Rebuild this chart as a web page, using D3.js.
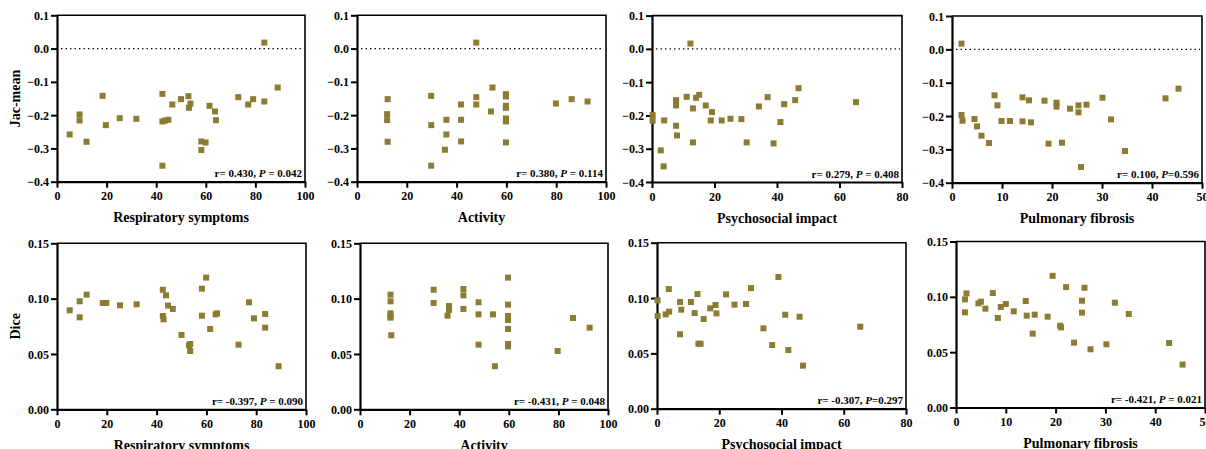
<!DOCTYPE html>
<html><head><meta charset="utf-8">
<script src="https://cdn.jsdelivr.net/npm/d3@7"></script>
<style>
body{margin:0;background:#fff;}
svg{display:block;}
text{font-family:"Liberation Serif","Times New Roman",serif;font-weight:bold;fill:#000;}
</style></head><body>
<svg id="chart" width="1206" height="449"></svg>
<script>
// ---------- data ----------
const xTitles = ["Respiratory symptoms", "Activity", "Psychosocial impact", "Pulmonary fibrosis"];
const yTitles = ["Jac-mean", "Dice"];
const jacTicks = [0.1, 0.0, -0.1, -0.2, -0.3, -0.4];
const diceTicks = [0.15, 0.10, 0.05, 0.00];
const xTicks100 = [0, 20, 40, 60, 80, 100];
const xTicks80 = [0, 20, 40, 60, 80];
const xTicks50 = [0, 10, 20, 30, 40, 50];

// Jac-mean row
const respJacX = [5.1, 9.1, 9.1, 11.9, 18.4, 19.7, 25.3, 32.0, 42.5, 42.5, 42.5, 43.6, 44.9, 46.5, 50.0, 53.0, 53.8, 53.2, 58.2, 58.2, 59.9, 61.5, 63.7, 64.1, 73.1, 77.1, 79.1, 83.6, 83.6, 89.0];
const respJacY = [-0.258, -0.198, -0.216, -0.280, -0.142, -0.230, -0.209, -0.211, -0.136, -0.352, -0.219, -0.216, -0.214, -0.168, -0.152, -0.143, -0.165, -0.178, -0.279, -0.305, -0.282, -0.172, -0.189, -0.215, -0.146, -0.168, -0.152, -0.159, 0.018, -0.117];

const actJacX = [12.3, 12.1, 12.1, 12.3, 29.8, 29.8, 29.8, 35.9, 35.9, 35.3, 41.8, 41.8, 41.8, 47.9, 47.9, 47.9, 53.8, 54.4, 59.8, 59.8, 59.8, 59.8, 59.8, 59.8, 59.8, 79.9, 86.2, 92.6];
const actJacY = [-0.152, -0.197, -0.215, -0.280, -0.142, -0.230, -0.352, -0.214, -0.258, -0.304, -0.168, -0.214, -0.279, 0.018, -0.146, -0.168, -0.189, -0.117, -0.137, -0.144, -0.172, -0.178, -0.210, -0.219, -0.282, -0.165, -0.152, -0.159];

const psyJacX = [0.2, 0.2, 3.9, 2.8, 3.7, 7.7, 7.7, 7.7, 7.7, 8.0, 11.1, 12.3, 13.1, 13.1, 14.1, 15.1, 17.2, 19.2, 18.8, 22.3, 25.1, 28.6, 30.3, 34.2, 37.0, 38.9, 41.1, 42.3, 45.8, 46.9, 65.3];
const psyJacY = [-0.199, -0.216, -0.215, -0.305, -0.353, -0.154, -0.161, -0.170, -0.231, -0.260, -0.144, 0.016, -0.179, -0.281, -0.147, -0.138, -0.170, -0.190, -0.215, -0.215, -0.210, -0.211, -0.281, -0.173, -0.145, -0.284, -0.220, -0.166, -0.154, -0.118, -0.160];

const fibJacX = [1.9, 1.9, 2.1, 4.5, 5.0, 5.9, 7.4, 8.5, 9.1, 9.9, 11.6, 14.1, 14.1, 15.4, 15.8, 18.5, 19.3, 20.9, 20.9, 22.0, 23.6, 25.3, 25.3, 25.8, 26.9, 30.1, 31.8, 34.6, 42.7, 45.3];
const fibJacY = [0.017, -0.197, -0.214, -0.209, -0.231, -0.259, -0.281, -0.138, -0.168, -0.215, -0.215, -0.144, -0.216, -0.153, -0.219, -0.154, -0.283, -0.160, -0.172, -0.280, -0.178, -0.168, -0.189, -0.353, -0.166, -0.145, -0.210, -0.305, -0.147, -0.118];

// Dice row
const respDiceX = [5.1, 9.1, 9.1, 11.9, 18.4, 19.8, 25.3, 32.0, 42.5, 42.5, 42.8, 43.8, 44.6, 46.5, 50.0, 53.0, 53.5, 53.5, 58.2, 58.2, 59.9, 61.5, 63.7, 64.3, 72.9, 77.1, 79.1, 83.6, 83.6, 89.0];
const respDiceY = [0.0895, 0.0976, 0.0831, 0.1036, 0.0961, 0.0961, 0.0940, 0.0949, 0.1080, 0.0843, 0.0813, 0.1030, 0.0937, 0.0907, 0.0672, 0.0578, 0.0590, 0.0527, 0.1090, 0.0846, 0.1190, 0.0726, 0.0858, 0.0867, 0.0584, 0.0967, 0.0822, 0.0861, 0.0738, 0.0389];

const actDiceX = [12.3, 12.3, 12.3, 12.3, 12.3, 12.6, 29.7, 29.7, 35.9, 35.9, 35.3, 41.7, 41.7, 41.7, 47.8, 47.8, 47.8, 53.6, 54.4, 59.7, 59.7, 59.7, 59.7, 59.7, 59.7, 59.7, 79.7, 85.9, 92.6];
const actDiceY = [0.1036, 0.0976, 0.0867, 0.0846, 0.0828, 0.0669, 0.1080, 0.0961, 0.0934, 0.0898, 0.0846, 0.1087, 0.1030, 0.0907, 0.0967, 0.0858, 0.0584, 0.0858, 0.0389, 0.1190, 0.0946, 0.0843, 0.0807, 0.0726, 0.0590, 0.0569, 0.0527, 0.0825, 0.0738];

const psyDiceX = [0.2, 0.2, 2.8, 3.8, 3.9, 7.4, 7.4, 7.8, 10.9, 12.1, 13.0, 13.3, 14.0, 15.0, 17.1, 18.8, 19.1, 22.2, 24.9, 28.6, 30.2, 34.2, 37.0, 39.0, 41.2, 42.2, 45.8, 46.9, 65.3];
const psyDiceY = [0.0979, 0.0837, 0.0852, 0.1081, 0.0877, 0.0964, 0.0672, 0.0895, 0.0964, 0.0864, 0.1036, 0.0587, 0.0587, 0.0810, 0.0907, 0.0937, 0.0861, 0.1033, 0.0940, 0.0946, 0.1090, 0.0726, 0.0575, 0.1190, 0.0849, 0.0530, 0.0831, 0.0389, 0.0741];

const fibDiceX = [1.8, 2.1, 1.8, 4.5, 5.0, 5.9, 7.4, 8.4, 9.0, 10.0, 11.6, 14.0, 14.2, 15.8, 15.4, 18.4, 19.4, 20.9, 21.1, 22.1, 23.7, 25.3, 25.3, 25.8, 27.0, 30.2, 31.9, 34.7, 42.8, 45.5];
const fibDiceY = [0.0977, 0.1031, 0.0860, 0.0941, 0.0956, 0.0893, 0.1034, 0.0809, 0.0908, 0.0935, 0.0869, 0.0962, 0.0830, 0.0839, 0.0667, 0.0821, 0.1190, 0.0739, 0.0724, 0.1088, 0.0586, 0.0965, 0.0857, 0.1082, 0.0526, 0.0571, 0.0947, 0.0845, 0.0583, 0.0388];

const statR = ["0.430", "0.380", "0.279", "0.100", "-0.397", "-0.431", "-0.307", "-0.421"];
const statP = [" = 0.042", " = 0.114", " = 0.408", "=0.596", " = 0.090", " = 0.048", "=0.297", " = 0.021"];

// ---------- layout (pixel boxes for each panel) ----------
const layout = [
  {l: 57, r: 305, t: 15.3, b: 181.7},
  {l: 357, r: 606, t: 15.3, b: 181.7},
  {l: 652, r: 902, t: 15.6, b: 182},
  {l: 952, r: 1202, t: 16, b: 182.7},
  {l: 57, r: 306, t: 243.3, b: 409.3},
  {l: 360, r: 608, t: 243.3, b: 409.3},
  {l: 657, r: 906, t: 242.7, b: 408.7},
  {l: 956, r: 1205, t: 241.5, b: 407.5}
];

const panels = [
  {x: respJacX, y: respJacY, xd: [0, 100], xt: xTicks100, row: 0, col: 0},
  {x: actJacX, y: actJacY, xd: [0, 100], xt: xTicks100, row: 0, col: 1},
  {x: psyJacX, y: psyJacY, xd: [0, 80], xt: xTicks80, row: 0, col: 2},
  {x: fibJacX, y: fibJacY, xd: [0, 50], xt: xTicks50, row: 0, col: 3},
  {x: respDiceX, y: respDiceY, xd: [0, 100], xt: xTicks100, row: 1, col: 0},
  {x: actDiceX, y: actDiceY, xd: [0, 100], xt: xTicks100, row: 1, col: 1},
  {x: psyDiceX, y: psyDiceY, xd: [0, 80], xt: xTicks80, row: 1, col: 2},
  {x: fibDiceX, y: fibDiceY, xd: [0, 50], xt: xTicks50, row: 1, col: 3}
];

const svg = d3.select("#chart");
const markColor = "#8B7B33";
const ms = 6;

panels.forEach((p, i) => {
  const L = layout[i];
  const isJac = p.row === 0;
  const x = d3.scaleLinear().domain(p.xd).range([L.l, L.r]);
  const y = isJac ? d3.scaleLinear().domain([-0.4, 0.1]).range([L.b, L.t])
                  : d3.scaleLinear().domain([0, 0.15]).range([L.b, L.t]);
  const g = svg.append("g");

  // frame (top & right)
  g.append("path")
    .attr("d", `M${L.l},${L.t}H${L.r}V${L.b}`)
    .attr("fill", "none").attr("stroke", "#000").attr("stroke-width", 1.6);

  // zero dotted line
  if (isJac) {
    g.append("line")
      .attr("x1", L.l + 4).attr("x2", L.r - 2)
      .attr("y1", y(0)).attr("y2", y(0))
      .attr("stroke", "#000").attr("stroke-width", 1.4)
      .attr("stroke-dasharray", "1.4,3.1");
  }

  // axes
  const yAxis = d3.axisLeft(y)
    .tickValues(isJac ? jacTicks : diceTicks)
    .tickFormat(isJac ? d3.format(".1f") : d3.format(".2f"))
    .tickSize(6).tickSizeOuter(0).tickPadding(2);
  const ya = g.append("g").attr("transform", `translate(${L.l},0)`).call(yAxis);

  const xAxis = d3.axisBottom(x)
    .tickValues(p.xt).tickFormat(d3.format("d"))
    .tickSize(6).tickSizeOuter(0).tickPadding(4);
  const xa = g.append("g").attr("transform", `translate(0,${L.b})`).call(xAxis);

  [ya, xa].forEach(a => {
    a.select(".domain").attr("stroke", "#000").attr("stroke-width", 2.2);
    a.selectAll(".tick line").attr("stroke", "#000").attr("stroke-width", 2);
    a.selectAll(".tick text").attr("font-size", 12)
      .style("font-family", "'Liberation Serif', serif").style("font-weight", "bold").attr("fill", "#000");
  });
  ya.selectAll(".tick text").attr("dy", "0.34em");

  // points
  g.selectAll("rect.pt").data(p.x.map((v, k) => [v, p.y[k]])).enter()
    .append("rect").attr("class", "pt")
    .attr("x", d => x(d[0]) - ms / 2).attr("y", d => y(d[1]) - ms / 2)
    .attr("width", ms).attr("height", ms).attr("fill", markColor);

  // x title
  g.append("text").attr("x", (L.l + L.r) / 2).attr("y", L.b + 40.5)
    .attr("text-anchor", "middle").attr("font-size", 14).text(xTitles[p.col]);

  // y title (first column)
  if (p.col === 0) {
    g.append("text")
      .attr("transform", `translate(20,${(L.t + L.b) / 2}) rotate(-90)`)
      .attr("text-anchor", "middle").attr("font-size", 14).text(yTitles[p.row]);
  }

  // stats annotation
  const t = g.append("text").attr("x", L.r - 3).attr("y", L.b - 4.5)
    .attr("text-anchor", "end").attr("font-size", 11);
  t.append("tspan").text("r= " + statR[i] + ", ");
  t.append("tspan").attr("font-style", "italic").text("P");
  t.append("tspan").text(statP[i]);
});
</script>
</body></html>
